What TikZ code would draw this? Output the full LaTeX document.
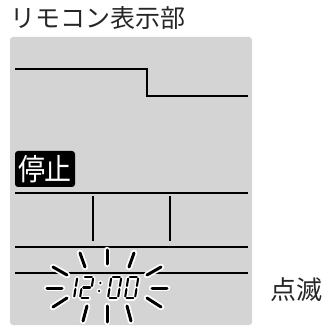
\documentclass[tikz,border=0pt]{standalone}
\usepackage{fontspec}
\setmainfont{Noto Sans CJK JP}
\newcommand\dsg[6]{\draw[#1] ({#2+(#3)+0.16*(#4)},{298-(#4)}) -- ({#2+(#5)+0.16*(#6)},{298-(#6)});}
\newcommand\dzero[2]{%
 \dsg{#1}{#2}{1.6}{21}{8.4}{21}%
 \dsg{#1}{#2}{10}{19.4}{10}{12}%
 \dsg{#1}{#2}{10}{9}{10}{1.6}%
 \dsg{#1}{#2}{1.6}{0}{8.4}{0}%
 \dsg{#1}{#2}{0}{1.6}{0}{9}%
 \dsg{#1}{#2}{0}{12}{0}{19.4}}
\newcommand\allsegs[2]{%
 \dsg{#1}{64}{10}{19.4}{10}{12}%
 \dsg{#1}{64}{10}{9}{10}{1.6}%
 \dsg{#1}{80}{1.6}{21}{8.4}{21}%
 \dsg{#1}{80}{10}{19.4}{10}{12}%
 \dsg{#1}{80}{1.6}{10.5}{8.4}{10.5}%
 \dsg{#1}{80}{0}{9}{0}{1.6}%
 \dsg{#1}{80}{1.6}{0}{8.4}{0}%
 \fill[#1] ({98+0.16*7},{298-7}) circle (#2);%
 \fill[#1] ({98+0.16*15},{298-15}) circle (#2);%
 \dzero{#1}{108}\dzero{#1}{125}}
\newcommand\allrays[1]{%
 \foreach \a/\b/\c/\d in {107/250/107/264, 80/253/85/267, 134/253/129/267,
   53/267/67/275, 161/267/147/275, 47/288/62/288, 167/288/152/288,
   53/307/67/298, 161/307/147/298, 83/321/87/306, 107/306/107/322, 131/321/127/306}
   {\draw[#1] (\a,\b) -- (\c,\d);}}
\begin{document}
\begin{tikzpicture}[x=1pt,y=-1pt,
  lcd/.style={line width=2pt},
  rayhalo/.style={white,line width=6.5pt,line cap=round},
  rayline/.style={black,line width=3pt,line cap=round},
  seghalo/.style={white,line width=5pt,line cap=round},
  segline/.style={black,line width=2.1pt,line cap=round},
  dothalo/.style={white},
  dotline/.style={black},
  label/.style={inner sep=0pt,text=black!85}]
\useasboundingbox (0,0) rectangle (327,326);
\node[label,anchor=base west,font=\fontsize{25}{25}\selectfont] (title) at (10,28) {リモコン表示部};
\fill[black!17,rounded corners=3pt] (10,37) rectangle (252,325);
\draw[lcd] (15,69) -- (147,69) -- (147,96) -- (248,96);
\fill[black,rounded corners=3pt] (15,151) rectangle (75,187);
\node[inner sep=0pt,text=white,font=\fontsize{30}{30}\selectfont] (stop) at (45,169) {\scalebox{0.9}[1]{停止}};
\draw[lcd] (15,193) -- (248,193);
\draw[lcd] (93,196) -- (93,241);
\draw[lcd] (170,196) -- (170,241);
\draw[lcd] (15,247) -- (248,247);
\draw[lcd] (15,273) -- (248,273);
\allrays{rayhalo}
\allsegs{seghalo}{2.6}
\allrays{rayline}
\allsegs{segline}{1.2}
\node[label,font=\fontsize{26}{26}\selectfont] (blink) at (296,290) {点滅};
\end{tikzpicture}
\end{document}
